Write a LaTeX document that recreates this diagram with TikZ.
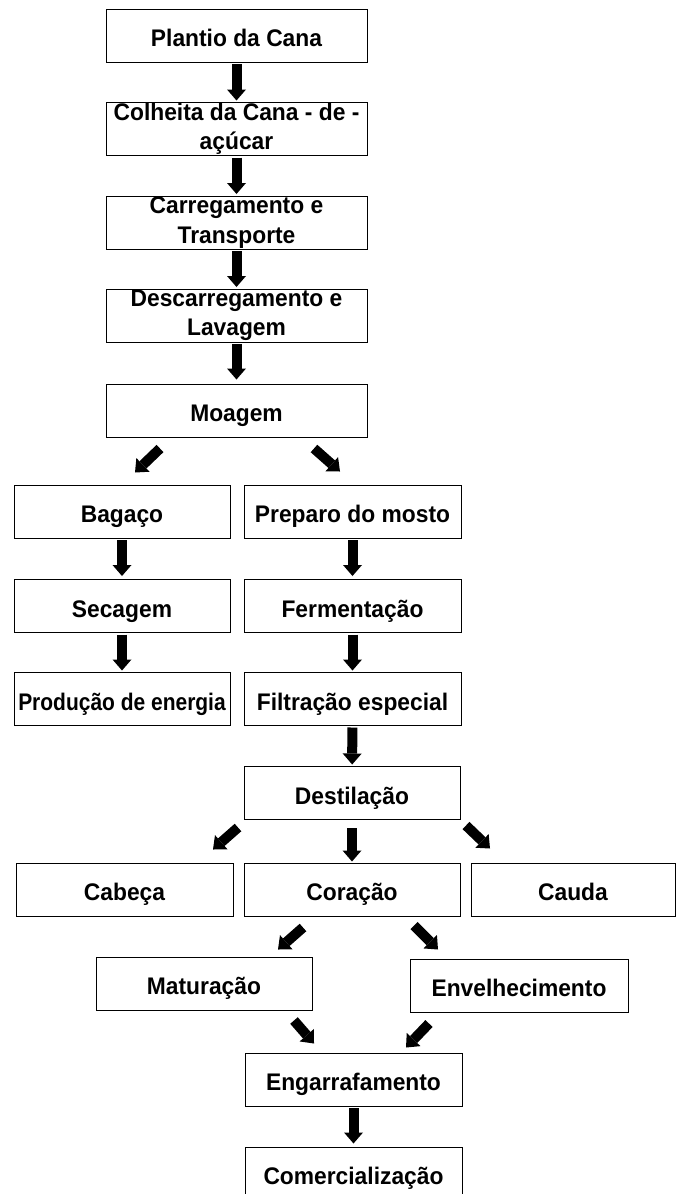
\documentclass[tikz,border=0pt]{standalone}
\usepackage{fontspec}
\setmainfont{Liberation Sans}[FakeStretch=0.95]
\usetikzlibrary{arrows.meta,calc}
\tikzset{
  stagebox/.style={draw=black, line width=1pt, fill=white, minimum width=#1,
    minimum height=53pt, inner sep=0pt, text height=22.5pt, text depth=0pt,
    font=\fontsize{24}{29.5}\selectfont\bfseries},
  stagebox2/.style={draw=black, line width=1pt, fill=white, minimum width=#1,
    minimum height=53pt, inner sep=0pt, align=center,
    font=\fontsize{24}{29.5}\selectfont\bfseries},
  blk/.style={draw=black, line width=10pt,
    -{Triangle[length=11pt,width=19pt,line width=0pt]}},
  vblk/.style={blk, shorten <=1.5pt, shorten >=1.5pt}
}
\begin{document}
\begin{tikzpicture}[x=1pt,y=-1pt]
\useasboundingbox (0,0) rectangle (676,1194);
\clip (0,0) rectangle (676,1194);
\fill[white] (0,0) rectangle (676,1194);

\node[stagebox=261pt] (plantio) at (236.5,35.5) {Plantio da Cana};
\node[stagebox2=261pt] (colheita) at (236.5,129) {Colheita da Cana - de -\\açúcar};
\node[stagebox2=261pt] (carreg) at (236.5,222.5) {Carregamento e\\Transporte};
\node[stagebox2=261pt] (descarreg) at (236.5,315.5) {Descarregamento e\\Lavagem};
\node[stagebox=261pt] (moagem) at (236.5,410.5) {Moagem};
\node[stagebox=216pt] (bagaco) at (122,511.5) {Bagaço};
\node[stagebox=217pt] (preparo) at (352.5,511.5) {Preparo do mosto};
\node[stagebox=216pt] (secagem) at (122,606) {Secagem};
\node[stagebox=217pt] (ferment) at (352.5,606) {Fermentação};
\node[stagebox=216pt] (producao) at (122,699) {\scalebox{0.92}[1]{Produção de energia}};
\node[stagebox=217pt] (filtracao) at (352.5,699) {Filtração especial};
\node[stagebox=216pt] (destil) at (352,793) {Destilação};
\node[stagebox=217pt] (cabeca) at (124.5,889.5) {Cabeça};
\node[stagebox=216pt] (coracao) at (352,889.5) {Coração};
\node[stagebox=204pt] (cauda) at (573,889.5) {Cauda};
\node[stagebox=216pt] (matur) at (204,983.5) {Maturação};
\node[stagebox=218pt] (envel) at (519,985.5) {Envelhecimento};
\node[stagebox=217pt] (engarr) at (353.5,1079.5) {Engarrafamento};
\node[stagebox=217pt] (comerc) at (353.5,1173.5) {Comercialização};

% vertical arrows
\draw[vblk] (plantio) -- (colheita);
\draw[vblk] (colheita) -- (carreg);
\draw[vblk] (carreg) -- (descarreg);
\draw[vblk, shorten >=4pt] (descarreg) -- (moagem);
\draw[vblk, shorten >=3pt] (bagaco) -- (secagem);
\draw[vblk, shorten >=3pt] (preparo) -- (ferment);
\draw[vblk] (secagem) -- (producao);
\draw[vblk] (ferment) -- (filtracao);
\draw[vblk] (filtracao) -- (destil);
\draw[blk, shorten <=8pt, shorten >=1pt] (destil) -- (coracao);
\draw[vblk, shorten >=3pt] (engarr) -- (comerc);

% diagonal arrows
\draw[blk] ($(moagem.south)+(-76.5,11)$) -- ($(bagaco.north)+(13,-12)$);
\draw[blk] ($(moagem.south)+(77.5,11)$) -- ($(preparo.north)+(-12.5,-13)$);
\draw[blk] ($(destil.south)+(-114,7.5)$) -- ($(cabeca.north)+(88.5,-13)$);
\draw[blk] ($(destil.south)+(114,5.5)$) -- ($(cauda.north)+(-83,-14)$);
\draw[blk] ($(coracao.south)+(-49,11)$) -- ($(matur.north)+(74,-7)$);
\draw[blk] ($(coracao.south)+(62,9)$) -- ($(envel.north)+(-81,-9)$);
\draw[blk] ($(matur.south)+(90,10)$) -- ($(engarr.north)+(-39.5,-9)$);
\draw[blk] ($(envel.south)+(-90,11)$) -- ($(engarr.north)+(52.5,-5)$);
\end{tikzpicture}
\end{document}
